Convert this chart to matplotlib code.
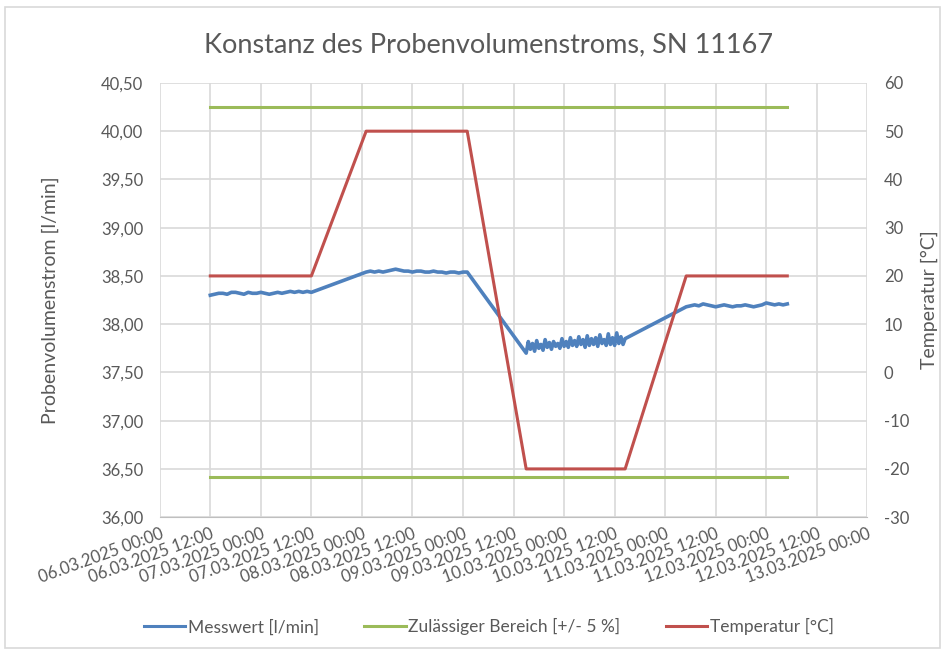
import matplotlib
matplotlib.use("Agg")
import matplotlib.pyplot as plt
import matplotlib.dates as mdates
from matplotlib.lines import Line2D
from matplotlib.patches import Rectangle
from matplotlib.ticker import FuncFormatter, MultipleLocator
import numpy as np
from datetime import datetime, timedelta

plt.rcParams['font.family'] = ['Lato', 'DejaVu Sans']
plt.rcParams['axes.unicode_minus'] = False

start = datetime(2025, 3, 6, 0, 0)

# ------------------------------------------
# Messwert (Stunden ab 06.03.2025 00:00)
# ------------------------------------------
mess_h1 = np.arange(12, 37, 1.0)
mess_v1 = [38.30, 38.31, 38.32, 38.32, 38.31, 38.33, 38.33, 38.32, 38.31, 38.33,
           38.32, 38.32, 38.33, 38.32, 38.31, 38.32, 38.33, 38.32, 38.33, 38.34,
           38.33, 38.34, 38.33, 38.34, 38.33]

mess_h2 = np.arange(49, 74, 1.0)
mess_v2 = [38.54, 38.55, 38.54, 38.55, 38.54, 38.55, 38.56, 38.57, 38.56, 38.55,
           38.55, 38.54, 38.55, 38.55, 38.54, 38.54, 38.55, 38.54, 38.54, 38.53,
           38.54, 38.54, 38.53, 38.54, 38.54]

mess_h3 = np.arange(87, 111, 0.5)
mess_v3 = [37.70, 37.82, 37.74, 37.80, 37.72, 37.83, 37.75, 37.79, 37.73, 37.84,
           37.76, 37.81, 37.74, 37.82, 37.77, 37.80, 37.75, 37.85, 37.77, 37.82,
           37.76, 37.86, 37.78, 37.83, 37.77, 37.87, 37.79, 37.84, 37.76, 37.88,
           37.78, 37.85, 37.79, 37.86, 37.77, 37.89, 37.80, 37.84, 37.78, 37.90,
           37.79, 37.86, 37.78, 37.91, 37.80, 37.87, 37.79, 37.85]

mess_h4 = np.arange(125, 150, 1.0)
mess_v4 = [38.18, 38.19, 38.20, 38.19, 38.21, 38.20, 38.19, 38.18, 38.19, 38.20,
           38.19, 38.18, 38.19, 38.19, 38.20, 38.19, 38.18, 38.19, 38.20, 38.22,
           38.21, 38.20, 38.21, 38.20, 38.21]

# Zulaessiger Bereich
grenze_h = [12, 149]
grenze_oben = 40.25
grenze_unten = 36.42

# Temperatur
temp_h = [12, 36, 49, 73, 87, 110.5, 125, 149]
temp_v = [20, 20, 50, 50, -20, -20, 20, 20]

# ------------------------------------------
mess_h = np.concatenate([mess_h1, mess_h2, mess_h3, mess_h4])
mess_v = np.concatenate([mess_v1, mess_v2, mess_v3, mess_v4])


def zu_datum(stunden):
    return [start + timedelta(hours=float(h)) for h in stunden]


BLAU = "#4F81BD"
GRUEN = "#9BBB59"
ROT = "#C0504D"
GRAU = "#595959"
GITTER = "#D9D9D9"

fig = plt.figure(figsize=(9.51, 6.53), dpi=100)
ax = fig.add_axes([0.168, 0.208, 0.744, 0.665])
ax2 = ax.twinx()

ax.plot(zu_datum(mess_h), mess_v, color=BLAU, linewidth=2.6, zorder=3)
ax.plot(zu_datum(grenze_h), [grenze_oben] * 2, color=GRUEN, linewidth=2.2, zorder=3)
ax.plot(zu_datum(grenze_h), [grenze_unten] * 2, color=GRUEN, linewidth=2.2, zorder=3)
ax2.plot(zu_datum(temp_h), temp_v, color=ROT, linewidth=2.2)

ax.set_xlim(start, start + timedelta(days=7))
ax.set_ylim(36.0, 40.5)
ax2.set_ylim(-30, 60)

ax.xaxis.set_major_locator(mdates.HourLocator(byhour=[0, 12]))
ax.xaxis.set_major_formatter(mdates.DateFormatter('%d.%m.%Y %H:%M'))
ax.yaxis.set_major_locator(MultipleLocator(0.5))
ax.yaxis.set_major_formatter(FuncFormatter(lambda v, p: f"{v:.2f}".replace(".", ",")))
ax2.yaxis.set_major_locator(MultipleLocator(10))

ax.grid(True, color=GITTER, linewidth=1.2, zorder=0)
ax.set_axisbelow(True)

for a in (ax, ax2):
    for s in a.spines.values():
        s.set_visible(False)
    a.tick_params(length=0, labelsize=12, labelcolor=GRAU)
ax.spines['bottom'].set_visible(True)
ax.spines['bottom'].set_color("#BFBFBF")
ax.tick_params(axis='y', pad=12)
ax2.tick_params(axis='y', pad=12)
ax.tick_params(axis='x', pad=6)

for lbl in ax.get_xticklabels():
    lbl.set_rotation(20)
    lbl.set_ha('right')
    lbl.set_rotation_mode('anchor')

ax.set_ylabel("Probenvolumenstrom [l/min]", fontsize=14, color=GRAU, labelpad=30)
ax2.set_ylabel("Temperatur [°C]", fontsize=14, color=GRAU, labelpad=8)

fig.text(0.514, 0.931, "Konstanz des Probenvolumenstroms, SN 11167",
         ha='center', va='center', fontsize=19.5, color=GRAU)

handles = [Line2D([], [], color=BLAU, linewidth=2.2),
           Line2D([], [], color=GRUEN, linewidth=2.2),
           Line2D([], [], color=ROT, linewidth=2.2)]
labels = ["Messwert [l/min]", "Zulässiger Bereich [+/- 5 %]", "Temperatur [°C]"]
fig.legend(handles, labels, loc='center', bbox_to_anchor=(0.514, 0.04), ncol=3,
           frameon=False, fontsize=12.5, handlelength=2.4, handletextpad=0.15,
           columnspacing=2.6, labelcolor=GRAU)

fig.patches.append(Rectangle((5 / 951, 5 / 653), 935 / 951, 641 / 653,
                             transform=fig.transFigure, fill=False,
                             edgecolor=GITTER, linewidth=1.2))

fig.savefig("out.png", dpi=100)
